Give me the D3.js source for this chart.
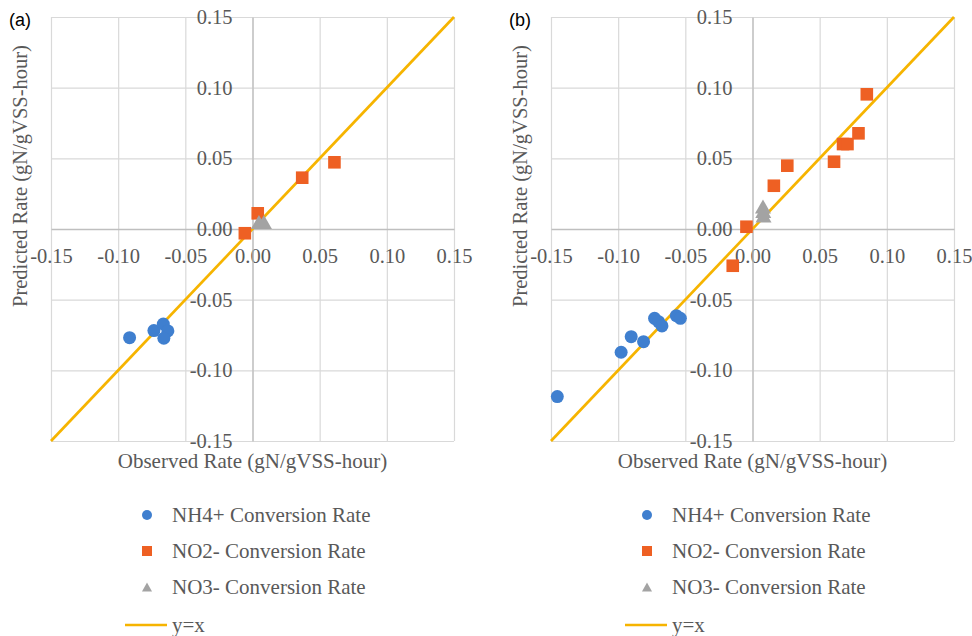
<!DOCTYPE html>
<html>
<head>
<meta charset="utf-8">
<script src="https://cdn.jsdelivr.net/npm/d3@7"></script>
<style>
  body { margin: 0; background: #fff; }
  svg { display: block; }
</style>
</head>
<body>
<div id="chart"></div>
<script>
// ticks shared by both panels
const ticks = [-0.15, -0.10, -0.05, 0.00, 0.05, 0.10, 0.15];

// panel (a): [observed, predicted]
const nh4A = [[-0.0915, -0.0769], [-0.0734, -0.0719], [-0.0664, -0.0672], [-0.0630, -0.0721], [-0.0660, -0.0773]];
const no2A = [[-0.0057, -0.0030], [0.0039, 0.0111], [0.0370, 0.0363], [0.0610, 0.0472]];
const no3A = [[0.0048, 0.0040], [0.0085, 0.0040]];

// panel (b): [observed, predicted]
const nh4B = [[-0.1453, -0.1186], [-0.0978, -0.0872], [-0.0903, -0.0762], [-0.0811, -0.0797],
  [-0.0729, -0.0632], [-0.0699, -0.0656], [-0.0674, -0.0686], [-0.0567, -0.0613], [-0.0537, -0.0632]];
const no2B = [[-0.0045, 0.0016], [0.0159, 0.0306], [0.0259, 0.0448], [0.0607, 0.0476], [0.0674, 0.0601],
  [0.0707, 0.0601], [0.0789, 0.0677], [0.0851, 0.0953], [-0.0147, -0.0260]];
const no3B = [[0.0082, 0.0085], [0.0080, 0.0117], [0.0078, 0.0149]];

const identity = [[-0.15, -0.15], [0.15, 0.15]];

const legendLabels = ['NH4+ Conversion Rate', 'NO2- Conversion Rate', 'NO3- Conversion Rate', 'y=x'];

const colors = { nh4: '#3F7FCF', no2: '#EE6023', no3: '#A3A3A3', line: '#F6B400' };
const textColor = '#595959';
const serif = '"Liberation Serif", "Times New Roman", serif';

const svg = d3.select('#chart').append('svg')
  .attr('width', 972)
  .attr('height', 636);

const panels = [
  { label: '(a)', left: 51, nh4: nh4A, no2: no2A, no3: no3A },
  { label: '(b)', left: 551, nh4: nh4B, no2: no2B, no3: no3B }
];

const plotTop = 17, plotW = 403, plotH = 424;

function tri(w, h) {
  // triangle centred roughly on its centroid
  return `M0,${-h * 0.6}L${w / 2},${h * 0.4}L${-w / 2},${h * 0.4}Z`;
}

panels.forEach(p => {
  const g = svg.append('g').attr('transform', `translate(${p.left},${plotTop})`);

  const x = d3.scaleLinear().domain([-0.15, 0.15]).range([0, plotW]);
  const y = d3.scaleLinear().domain([-0.15, 0.15]).range([plotH, 0]);

  // gridlines
  g.append('g')
    .attr('transform', `translate(0,${plotH})`)
    .call(d3.axisBottom(x).tickValues(ticks).tickSize(-plotH).tickFormat(''))
    .call(s => s.select('.domain').remove())
    .call(s => s.selectAll('line').attr('stroke', '#D9D9D9').attr('stroke-width', 1.2));
  g.append('g')
    .call(d3.axisLeft(y).tickValues(ticks).tickSize(-plotW).tickFormat(''))
    .call(s => s.select('.domain').remove())
    .call(s => s.selectAll('line').attr('stroke', '#D9D9D9').attr('stroke-width', 1.2));

  // zero axes with labels
  const xAxis = g.append('g')
    .attr('transform', `translate(0,${y(0)})`)
    .call(d3.axisBottom(x).tickValues(ticks).tickSize(0).tickPadding(19));
  const yAxis = g.append('g')
    .attr('transform', `translate(${x(0)},0)`)
    .call(d3.axisLeft(y).tickValues(ticks).tickSize(0).tickPadding(20));
  [xAxis, yAxis].forEach(a => {
    a.select('.domain').attr('stroke', '#BFBFBF').attr('stroke-width', 1.3);
    a.selectAll('text')
      .attr('fill', textColor)
      .style('font-family', serif)
      .style('font-size', '20.5px')
      .text(d => d3.format('.2f')(d).replace('\u2212', '-'));
  });

  // y = x line
  g.append('path')
    .datum(identity)
    .attr('fill', 'none')
    .attr('stroke', colors.line)
    .attr('stroke-width', 2.7)
    .attr('d', d3.line().x(d => x(d[0])).y(d => y(d[1])));

  g.selectAll('circle.nh4')
    .data(p.nh4)
    .join('circle')
    .attr('class', 'nh4')
    .attr('cx', d => x(d[0]))
    .attr('cy', d => y(d[1]))
    .attr('r', 6.5)
    .attr('fill', colors.nh4);

  g.selectAll('rect.no2')
    .data(p.no2)
    .join('rect')
    .attr('class', 'no2')
    .attr('x', d => x(d[0]) - 6.3)
    .attr('y', d => y(d[1]) - 6.3)
    .attr('width', 12.6)
    .attr('height', 12.6)
    .attr('fill', colors.no2);

  g.selectAll('path.no3')
    .data(p.no3)
    .join('path')
    .attr('class', 'no3')
    .attr('transform', d => `translate(${x(d[0])},${y(d[1])})`)
    .attr('d', tri(16, 14))
    .attr('fill', colors.no3);

  // axis titles
  g.append('text')
    .attr('x', x(0))
    .attr('y', 451)
    .attr('text-anchor', 'middle')
    .attr('fill', textColor)
    .style('font-family', serif)
    .style('font-size', '21px')
    .text('Observed Rate (gN/gVSS-hour)');

  g.append('text')
    .attr('transform', `translate(${-24},${159}) rotate(-90)`)
    .attr('text-anchor', 'middle')
    .attr('fill', textColor)
    .style('font-family', serif)
    .style('font-size', '20.5px')
    .text('Predicted Rate (gN/gVSS-hour)');

  // panel label
  svg.append('text')
    .attr('x', p.left - 42)
    .attr('y', 26)
    .attr('fill', '#000')
    .style('font-family', '"Liberation Sans", Arial, sans-serif')
    .style('font-size', '18px')
    .text(p.label);

  // legend
  const lg = svg.append('g').attr('transform', `translate(${p.left + 96},0)`);
  const rows = [515, 551, 587, 625];
  lg.append('circle').attr('cx', 0).attr('cy', rows[0]).attr('r', 5).attr('fill', colors.nh4);
  lg.append('rect').attr('x', -5).attr('y', rows[1] - 5).attr('width', 10).attr('height', 10).attr('fill', colors.no2);
  lg.append('path').attr('transform', `translate(0,${rows[2] + 1})`).attr('d', tri(10, 9)).attr('fill', colors.no3);
  lg.append('line').attr('x1', -22).attr('x2', 20).attr('y1', rows[3]).attr('y2', rows[3])
    .attr('stroke', colors.line).attr('stroke-width', 2.7);
  lg.selectAll('text.leg')
    .data(legendLabels)
    .join('text')
    .attr('class', 'leg')
    .attr('x', 25)
    .attr('y', (d, i) => rows[i] + 7)
    .attr('fill', textColor)
    .style('font-family', serif)
    .style('font-size', '21px')
    .text(d => d);
});
</script>
</body>
</html>
